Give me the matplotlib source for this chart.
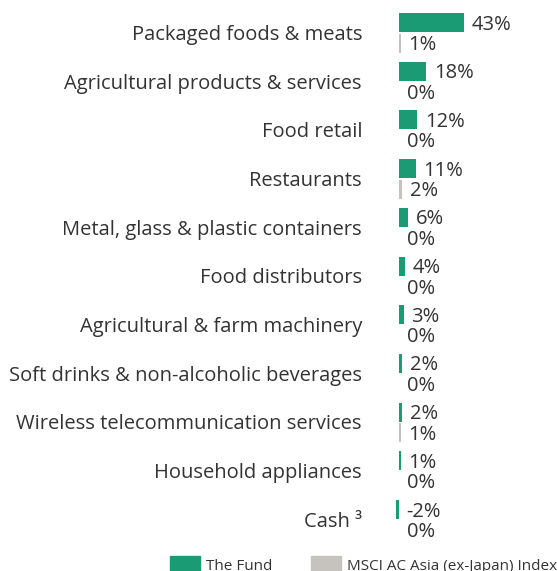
import matplotlib.pyplot as plt
from matplotlib.patches import Rectangle

plt.rcParams['font.family'] = ['Open Sans', 'DejaVu Sans']

# Sector weights (%)
sectors = ['Packaged foods & meats', 'Agricultural products & services', 'Food retail',
           'Restaurants', 'Metal, glass & plastic containers', 'Food distributors',
           'Agricultural & farm machinery', 'Soft drinks & non-alcoholic beverages',
           'Wireless telecommunication services', 'Household appliances', 'Cash \u00b3']
fund = [43, 18, 12, 11, 6, 4, 3, 2, 2, 1, -2]
index = [1, 0, 0, 2, 0, 0, 0, 0, 1, 0, 0]
legend_names = ['The Fund', 'MSCI AC Asia (ex-Japan) Index']

fund_color = '#1a9b73'
index_color = '#c6c2bd'
text_color = '#333333'

W, H = 557, 571
fig = plt.figure(figsize=(W / 100, H / 100), dpi=100)

# axes spans x 380..557 px, zero line at 399 px, ~1.52 px per %
ax_left = 380
ax = fig.add_axes([ax_left / W, 0, 1 - ax_left / W, 1])
px_per = 1.52
xmin = -(399 - ax_left) / px_per
xmax = (W - 399) / px_per
ax.set_xlim(xmin, xmax)

pitch = 48.7
top = 32.75
ax.set_ylim((H - top) / pitch, -top / pitch)
ax.axis('off')

off = 10.25 / pitch
h = 19 / pitch
ypos = list(range(len(sectors)))
ax.barh([y - off for y in ypos], fund, height=h, color=fund_color)
ax.barh([y + off for y in ypos], index, height=h, color=index_color)

for y, f, i, name in zip(ypos, fund, index, sectors):
    ax.annotate(f'{f}%', (max(f, 0), y - off), xytext=(5.5, -1.5), textcoords='offset points',
                ha='left', va='center', fontsize=14.5, color=text_color)
    ax.annotate(f'{i}%', (max(i, 0), y + off), xytext=(5.5, -1.5), textcoords='offset points',
                ha='left', va='center', fontsize=14.5, color=text_color)
    ax.annotate(name, (xmin, y), xytext=(-18 / 100 * 72, -1.5), textcoords='offset points',
                ha='right', va='center', fontsize=14.5, color=text_color,
                annotation_clip=False)

# legend at the bottom (cut off by the figure edge)
for x0, col, name in zip([170, 311], [fund_color, index_color], legend_names):
    fig.add_artist(Rectangle((x0 / W, -10 / H), 30 / W, 25 / H,
                             transform=fig.transFigure, color=col))
    fig.text((x0 + 36) / W, (H - 559) / H, name, ha='left', va='top',
             fontsize=11, color=text_color)

fig.savefig('out.png', dpi=100)
